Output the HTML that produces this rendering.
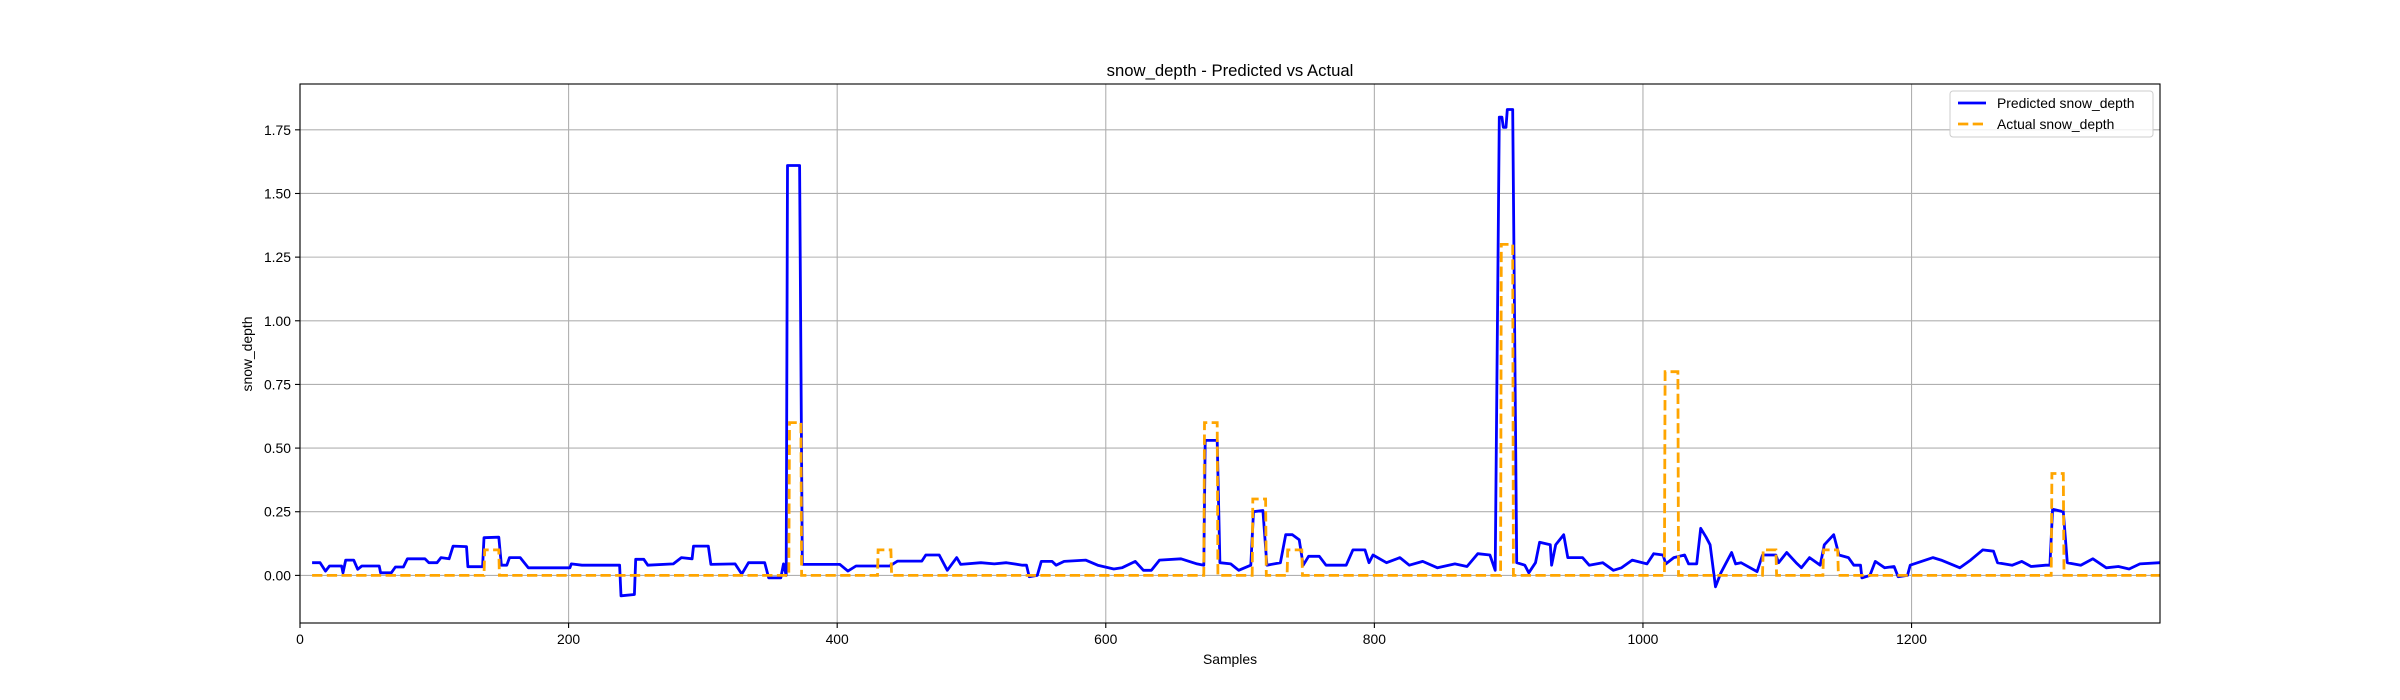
<!DOCTYPE html>
<html><head><meta charset="utf-8"><style>
html,body{margin:0;padding:0;background:#fff;}
svg{display:block;font-family:"Liberation Sans","DejaVu Sans",sans-serif;}
</style></head><body>
<svg id="chart" width="2400" height="700" viewBox="0 0 2400 700">
<rect width="2400" height="700" fill="#fff"/>
<g id="grid"></g>
<g id="series"></g>
<rect x="300" y="84" width="1860" height="539" fill="none" stroke="#000" stroke-width="1.1"/>
<g id="ticks"></g>
<text x="1230" y="76" font-size="16.7" text-anchor="middle">snow_depth - Predicted vs Actual</text>
<text x="1230" y="664" font-size="13.9" text-anchor="middle">Samples</text>
<text x="252" y="354" font-size="13.9" text-anchor="middle" transform="rotate(-90 252 354)">snow_depth</text>
<g>
<rect x="1950" y="91" width="203" height="46" rx="3" fill="#fff" fill-opacity="0.8" stroke="#ccc"/>
<line x1="1958" y1="103" x2="1986" y2="103" stroke="#0000ff" stroke-width="2.8"/>
<text x="1997" y="108" font-size="13.9">Predicted snow_depth</text>
<line x1="1958" y1="124" x2="1986" y2="124" stroke="#ffa500" stroke-width="2.8" stroke-dasharray="10.3 4.4"/>
<text x="1997" y="129" font-size="13.9">Actual snow_depth</text>
</g>
</svg>
<script>
const xTicks=[0,200,400,600,800,1000,1200];
const yTicks=[0,0.25,0.5,0.75,1.0,1.25,1.5,1.75];
const yTickLabels=["0.00","0.25","0.50","0.75","1.00","1.25","1.50","1.75"];
const predX=[9,15,19,22,31,32,34,40,43,46,59,60,68,71,77,80,93,96,102,105,111,114,124,125,136,137,148,150,154,156,164,170,201,202,210,238,239,249,250,256,259,278,284,292,293,304,306,324,329,334,346,349,358,360,362,363,372,374,402,408,414,439,445,463,466,476,482,489,492,507,517,526,538,541,543,549,552,560,563,569,585,594,606,612,622,628,634,640,656,668,673,674,683,685,693,699,708,710,717,720,730,734,739,744,747,751,759,764,779,784,793,796,799,809,819,826,836,847,860,869,877,886,890,893,895,896,898,899,903,906,912,915,920,923,931,932,935,941,944,955,960,970,978,984,992,1003,1008,1015,1017,1023,1031,1034,1040,1043,1047,1050,1054,1058,1061,1066,1069,1073,1085,1089,1099,1101,1107,1114,1118,1124,1132,1135,1142,1146,1153,1157,1162,1163,1169,1173,1180,1187,1190,1197,1199,1216,1222,1236,1244,1253,1261,1264,1275,1282,1289,1300,1303,1305,1313,1316,1326,1335,1345,1354,1362,1370,1385];
const predY=[0.05,0.05,0.017,0.037,0.037,0.01,0.06,0.06,0.024,0.037,0.037,0.01,0.01,0.033,0.033,0.065,0.065,0.05,0.05,0.07,0.065,0.115,0.113,0.034,0.034,0.148,0.15,0.04,0.04,0.07,0.07,0.03,0.03,0.045,0.04,0.04,-0.08,-0.075,0.063,0.063,0.04,0.045,0.07,0.065,0.115,0.115,0.043,0.045,0.005,0.05,0.05,-0.01,-0.01,0.045,0.0,1.61,1.61,0.043,0.043,0.017,0.037,0.037,0.056,0.056,0.08,0.08,0.02,0.07,0.043,0.05,0.045,0.05,0.04,0.04,-0.005,0,0.055,0.055,0.04,0.055,0.06,0.04,0.025,0.03,0.055,0.02,0.02,0.06,0.065,0.045,0.04,0.53,0.53,0.05,0.045,0.02,0.04,0.25,0.255,0.04,0.05,0.16,0.16,0.14,0.04,0.075,0.075,0.04,0.04,0.1,0.1,0.05,0.08,0.05,0.07,0.04,0.055,0.03,0.045,0.035,0.085,0.08,0.02,1.80,1.80,1.76,1.76,1.83,1.83,0.05,0.04,0.01,0.05,0.13,0.12,0.04,0.12,0.16,0.07,0.07,0.04,0.05,0.02,0.03,0.06,0.045,0.085,0.08,0.045,0.07,0.08,0.045,0.045,0.185,0.15,0.12,-0.045,0.01,0.04,0.09,0.045,0.05,0.015,0.08,0.08,0.05,0.09,0.05,0.03,0.07,0.04,0.12,0.16,0.08,0.07,0.04,0.04,-0.01,0.0,0.055,0.03,0.035,-0.005,0.0,0.04,0.07,0.06,0.03,0.06,0.1,0.095,0.05,0.04,0.055,0.035,0.04,0.04,0.26,0.25,0.05,0.04,0.065,0.03,0.035,0.025,0.045,0.05];
const actualStart=[137,364,430,673,709,735,894,1016,1089,1134,1304];
const actualEnd=[148,373,440,683,719,746,903,1026,1099,1145,1313];
const actualValue=[0.1,0.6,0.1,0.6,0.3,0.1,1.3,0.8,0.1,0.1,0.4];
const actualFirst=9, actualLast=1385;

const X0=300,X1=2160,Y0=84,Y1=623,XMIN=0,XMAX=1385,YMIN=-0.187,YMAX=1.93;
const sx=v=>X0+(v-XMIN)/(XMAX-XMIN)*(X1-X0);
const sy=v=>Y1-(v-YMIN)/(YMAX-YMIN)*(Y1-Y0);
const NS="http://www.w3.org/2000/svg";
function mk(tag,attrs,parent){const e=document.createElementNS(NS,tag);for(const k in attrs)e.setAttribute(k,attrs[k]);parent.appendChild(e);return e;}
const grid=document.getElementById('grid'),ticks=document.getElementById('ticks'),series=document.getElementById('series');
xTicks.forEach(t=>{
  const x=sx(t);
  const g=mk('line',{x1:x,x2:x,y1:Y0,y2:Y1,stroke:'#b0b0b0','stroke-width':1.1},grid);
  
  
  const tk=mk('line',{x1:x,x2:x,y1:Y1,y2:Y1+5,stroke:'#000','stroke-width':1.1},ticks);
  
  
  const lb=mk('text',{x:x,y:Y1+21,'font-size':13.9,'text-anchor':'middle'},ticks);
  lb.textContent=String(t);
  
  
});
yTicks.forEach((t,i)=>{
  const y=sy(t);
  const g=mk('line',{x1:X0,x2:X1,y1:y,y2:y,stroke:'#b0b0b0','stroke-width':1.1},grid);
  
  
  const tk=mk('line',{x1:X0-5,x2:X0,y1:y,y2:y,stroke:'#000','stroke-width':1.1},ticks);
  
  
  const lb=mk('text',{x:X0-9,y:y+5,'font-size':13.9,'text-anchor':'end'},ticks);
  lb.textContent=yTickLabels[i];
  
  
});
let pd='';
predX.forEach((x,i)=>{pd+=(i?'L':'M')+sx(x).toFixed(1)+','+sy(predY[i]).toFixed(1);});
const pl=mk('path',{d:pd,fill:'none',stroke:'#0000ff','stroke-width':2.8,'stroke-linejoin':'round'},series);


let ad='M'+sx(actualFirst).toFixed(1)+','+sy(0).toFixed(1);
actualStart.forEach((s,i)=>{
  ad+='L'+sx(s).toFixed(1)+','+sy(0).toFixed(1)+'L'+sx(s+0.5).toFixed(1)+','+sy(actualValue[i]).toFixed(1)+'L'+sx(actualEnd[i]).toFixed(1)+','+sy(actualValue[i]).toFixed(1)+'L'+sx(actualEnd[i]+0.5).toFixed(1)+','+sy(0).toFixed(1);
});
ad+='L'+sx(actualLast).toFixed(1)+','+sy(0).toFixed(1);
const al=mk('path',{d:ad,fill:'none',stroke:'#ffa500','stroke-width':2.8,'stroke-dasharray':'10.3 4.4'},series);


</script>
</body></html>
